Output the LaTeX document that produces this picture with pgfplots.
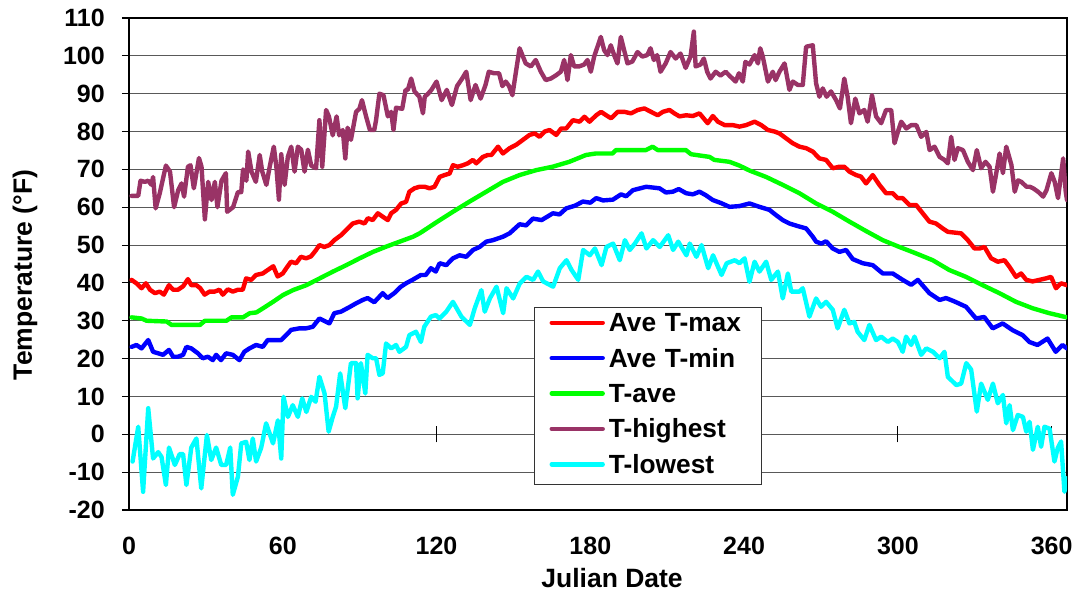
\documentclass[border=0pt]{standalone}
\usepackage{fontspec}
\setmainfont{Liberation Sans}
\usepackage{pgfplots}
\pgfplotsset{compat=1.18}
\definecolor{plum}{HTML}{993366}
\definecolor{cyanx}{HTML}{00FFFF}
\definecolor{greenx}{HTML}{00FF00}
\begin{document}
\begin{tikzpicture}
\useasboundingbox (-129pt,-84pt) rectangle (950pt,510pt);
\begin{axis}[
  scale only axis, width=938pt, height=492pt,
  xmin=0, xmax=366, ymin=-20, ymax=110,
  xtick={0,60,...,360}, xticklabels={0,60,120,180,240,300,360},
  ytick={-20,-10,...,110},
  yticklabels={-20,-10,0,10,20,30,40,50,60,70,80,90,100,110},
  ymajorgrids, grid style={black!65, line width=1.1pt},
  axis line style={line width=2.5pt},
  xtick style={draw=none}, ytick pos=left, tick align=outside,
  ytick style={black, line width=1.1pt}, major tick length=7pt,
  ticklabel style={font=\bfseries\fontsize{25}{25}\selectfont},
  xticklabel style={anchor=base, inner sep=0pt, yshift=-37pt},
  yticklabel style={anchor=east, inner sep=0pt, xshift=-17pt},
  xlabel={Julian Date}, ylabel={Temperature (°F)},
  label style={font=\bfseries\fontsize{26.5}{26.5}\selectfont},
  xlabel style={at={(axis description cs:0.515,-0.157)}, anchor=base},
  ylabel style={at={(axis description cs:-0.1109,0.4776)}, anchor=center},
  every axis plot/.append style={line width=4.4pt, line join=round, line cap=round},
  legend style={at={(axis description cs:0.4318,0.4126)}, anchor=north west,
    draw=black!80, line width=1pt, fill=white, inner xsep=15pt, inner ysep=0pt, row sep=0pt,
    font=\bfseries\fontsize{26.3}{26.3}\selectfont,
    nodes={text height=18.5pt, text depth=5.5pt, inner ysep=5.7pt, inner xsep=4pt, text width=134pt, align=left}},
  legend cell align=left,
  legend image code/.code={\draw[#1, line width=4.4pt] (0pt,2.5pt) -- (51pt,2.5pt);},
]
\foreach \t in {60,120,...,360} {\edef\temp{\noexpand\draw[black, line width=1pt] (axis cs:\t,-2.1) -- (axis cs:\t,2.1);}\temp}

\addplot[red] coordinates {(1,40.8)(2.9,39.9)(4.9,38.6)(6.6,39.9)(8.2,38.2)(10.1,37.3)(12,37.7)(13.6,36.9)(15.6,39.4)(17.2,38.2)(19.1,38.2)(21.1,39.1)(23,41)(24.3,39.4)(26.3,39.4)(27.8,38.6)(29.5,36.9)(31.4,37.7)(33.4,37.7)(35.3,38.2)(36.6,36.9)(38.6,38.3)(40.5,37.7)(42.5,38.2)(44.4,38.2)(45.7,41.2)(47.7,40.8)(49.6,42.1)(52.2,42.5)(54.1,43.4)(56.3,44.4)(58,41.7)(60,42.5)(61.3,43.8)(63.2,45.6)(65.2,45.2)(67.1,46.9)(69.1,46.5)(71,47)(73,48.7)(74.3,50)(76.2,49.5)(78.2,50)(80.1,51.3)(82.7,52.6)(85.4,54.4)(87.3,55.7)(89.9,56.2)(91.9,55.7)(93.2,57.1)(95.1,56.6)(97.1,58.4)(99,57.5)(101,56.6)(102.3,58.4)(104.2,59.3)(106.2,61)(108.1,61.4)(109.4,64.1)(111.4,65)(113.3,65.4)(115.4,65.4)(117.3,65)(119.2,65.4)(121.2,68)(123.1,68.5)(125.1,68.9)(126.4,71.1)(128.3,70.7)(130.3,71.1)(132.2,71.6)(134.2,72.5)(135.5,71.6)(138.1,73.3)(140,73.8)(141.4,73.8)(144,76)(145.9,74.2)(148.5,75.6)(151.1,76.5)(153.7,77.8)(156.3,79.1)(158.3,79.5)(160.2,78.6)(162.2,80)(164.1,80.4)(166.7,79.1)(168.6,80.8)(170.6,80.8)(173.2,83)(175.8,82.6)(177.7,83.9)(179.7,82.6)(182.3,84.3)(184.2,85.2)(186.2,84.3)(188.1,83.5)(190.7,85.2)(193.3,85.2)(195.9,84.8)(198.5,85.7)(201.1,86.1)(203.7,85.2)(206.3,84.3)(208.3,85.2)(210.9,85.7)(212.8,84.8)(214.8,84)(217.4,84.3)(220,84.1)(222.6,84.8)(225.8,82.2)(227.8,84.1)(229.8,82.6)(232.4,81.7)(235.6,81.7)(238.2,81.3)(240.8,81.7)(244.1,82.6)(246.7,81.7)(249.3,80.4)(251.9,80)(253.8,79.5)(256.4,78.2)(259,76.9)(261.6,76)(264.2,75.6)(266.8,74.7)(269.4,72.9)(272,72.5)(274.6,70.3)(277.2,70.7)(279.1,70.7)(281.1,69.4)(283.7,68.5)(285.6,68.1)(287.6,66.3)(290.2,68.5)(292.8,65.9)(295.4,63.7)(298,63.7)(299.9,62.4)(301.9,62.4)(304.5,60.6)(307.1,60.6)(309.7,58.4)(312.3,56.2)(314.9,55.7)(317.5,54.4)(319.5,53.5)(322.1,53.3)(324.7,53.1)(327.3,51.3)(329.9,49.1)(331.9,49.1)(333.8,49.5)(336.4,46.5)(339,45.6)(341.6,46)(343.5,44.3)(346.1,41.6)(348.1,42.5)(350.1,40.8)(352.6,40.4)(355.2,40.8)(357.8,41.2)(359.8,41.6)(361.7,38.6)(363.7,39.9)(366,39.4)};
\addlegendentry{Ave T-max}

\addplot[blue] coordinates {(1,23.1)(2.9,23.6)(4.9,22.7)(7.5,24.9)(9.4,21.8)(11.4,21.4)(13.3,21)(15.6,22.3)(17.2,20.5)(19.1,20.5)(21.1,21)(22.4,23.1)(24.3,22.7)(26.9,21.4)(28.8,20.1)(30.8,20.5)(32.7,19.6)(34,21)(35.9,19.6)(37.9,21.4)(40.5,21)(43.1,19.6)(45,21.8)(47,22.7)(49.6,23.6)(52.2,23.1)(54.1,24.9)(57.4,24.9)(59.4,24.9)(61.3,26.2)(63.3,27.6)(66.5,28)(69.1,28)(71.7,28.4)(74.3,30.6)(78.2,29.3)(80.1,32)(82.7,32.4)(86,33.6)(88.6,34.6)(91.2,35.5)(93.1,36)(95.7,34.9)(99,37.3)(100.9,36)(103.5,37.3)(106.1,39)(108.1,39.9)(110.6,40.8)(113.9,42.1)(115.8,42.1)(117.8,43.9)(119.7,43)(121.2,45.2)(123.8,44.7)(126.4,46.5)(129,47.3)(131.6,46.9)(134.2,48.7)(136.8,49.5)(139.4,50.9)(142,51.3)(145.9,52.2)(148.5,53.1)(152.4,55.5)(155,55.2)(157.6,57)(161,56.6)(165.4,58.4)(168,58.1)(170.6,59.7)(174,60.4)(177.1,61.5)(180,61.2)(182.3,62.4)(185,61.8)(188.8,62)(192,63.4)(194,62.9)(196.6,64.5)(201.8,65.4)(207,65)(209.5,63.9)(212.2,64.1)(214.5,64.8)(217.4,63.7)(220,63.4)(222.6,64.1)(225,63.2)(227.8,61.9)(231,61.1)(234.3,60.1)(238.2,60.3)(242.1,61)(246,60.1)(249.9,59.3)(252.5,57.9)(255.1,56.6)(257.7,55.7)(261,55)(264.2,54.4)(266.8,52.2)(268.1,50.9)(270.1,50.4)(272,51)(274.6,49.1)(277.2,48.2)(279.8,48.7)(282.4,46.3)(286.3,45.2)(290.2,44.7)(294.1,42.5)(298,42.5)(301.9,40.8)(305.2,39.5)(307.8,40.8)(312.3,37.3)(316.3,35.5)(318.8,36)(322.1,35.1)(326.6,33.7)(330.5,30.6)(333.7,31)(337,28)(340.9,29.3)(344.8,27.5)(348.7,26.2)(351.3,24.4)(354.5,23.6)(358.4,25.3)(361.6,21.8)(364.2,23.6)(366,22.7)};
\addlegendentry{Ave T-min}

\addplot[greenx] coordinates {(1,30.9)(4.9,30.6)(6.9,30)(14.7,29.8)(16.6,28.9)(27.7,28.9)(29.6,30)(38,30)(40,30.9)(44.5,30.9)(47.1,32)(49.7,32.2)(52.3,33.3)(56.2,35)(60.1,36.8)(64,38.1)(69.2,39.4)(74.4,41.2)(79.6,43)(84.8,44.7)(90,46.5)(95.2,48.2)(100.4,49.6)(105.6,50.9)(110.8,52.2)(113.4,53.1)(119.9,56)(126.4,58.8)(132.9,61.5)(139.4,64.1)(145.9,66.7)(152.4,68.5)(158.9,69.8)(165.3,70.7)(171.8,72)(178.3,73.8)(182.2,74.2)(188.7,74.2)(190,75.1)(201.7,75.1)(204.3,76)(206.3,75.1)(217.3,75.1)(219.3,74)(226.5,73.3)(228.4,72.5)(234.3,72)(238.2,71)(242.1,69.7)(248.6,68)(255.1,65.9)(261.6,63.7)(268.1,61)(274.6,58.8)(281.1,56.2)(287.6,53.7)(294.1,51.3)(300.6,49.5)(307.1,47.8)(313.6,46)(320.1,43.4)(326.6,41.6)(333.1,39.4)(339.6,37.3)(346.1,35)(352.6,33.3)(359.1,32)(366,30.9)};
\addlegendentry{T-ave}

\addplot[plum] coordinates {(1,63)(3.6,63)(4.5,67)(6.2,66.7)(7.5,67)(8.8,65.9)(9.4,68)(10.4,59.7)(12,63.7)(14.4,71)(16,69.4)(17.6,60)(19.2,64.5)(20.5,66.3)(21.5,62.8)(23,70.7)(24,71.1)(25.3,65)(27.3,73)(28.3,70.7)(29.6,56.8)(30.9,66.7)(32.2,61.9)(33.5,66.7)(34.5,60)(36.1,67)(37.8,69)(38.3,58.8)(40.6,60)(42.5,64)(43.8,64)(44.5,70)(45.8,67)(46.5,74.7)(47.8,69.4)(49.5,66.7)(51,73.8)(52,69.4)(53.6,65.9)(54.9,70.7)(56.5,76)(57.5,70.7)(58.5,62)(59.4,74)(60.7,65.9)(62,73.4)(63.3,76)(64.6,69.4)(65.9,76)(67.2,75.2)(68.5,69.4)(69.8,75.2)(71.1,71)(73,70.3)(74.3,83)(75.4,70.7)(76.9,85.7)(78,84)(79.5,79)(81,84)(82,79)(83.4,80.4)(84.4,72.9)(85.3,81)(86.6,77.8)(88.6,85.2)(89.9,86)(90.9,88.3)(92.5,84)(94,80.4)(95.7,80.4)(96.4,83)(97.7,90)(99.3,89.6)(101,84)(102.3,85.2)(103.2,80.4)(104.2,86.3)(106.6,86)(107.9,91)(108.8,91)(110.1,94)(111.4,90.6)(113.3,89.2)(114.7,84.8)(115.4,89.2)(116.7,90)(118,91)(120,93.2)(122,88.3)(124,91)(126,87)(128,92)(130,94)(131.6,95.8)(133.3,88.3)(135.2,92.3)(137.2,88.7)(139.1,92.3)(140.4,95.8)(142.4,95.4)(144.4,95.4)(145.7,92)(147,93.2)(148.3,92)(149.6,89.6)(150.9,95.4)(152.4,102)(154.8,98)(156.8,97.2)(158.7,98.9)(160.7,95.8)(162.6,93.6)(164.6,94)(166.5,94.8)(168.5,95.8)(169.8,98.9)(171.1,93.6)(172.4,100.2)(173.7,97.2)(175.6,97.2)(177.6,97.7)(178.9,98.9)(180.2,95.8)(181.5,99.8)(182.8,102.4)(184.1,105)(185.4,101.5)(186.7,100.2)(188,102.8)(189.3,100.2)(190.6,98)(191.9,105)(193.2,101.5)(194.5,98)(196.4,98.5)(198.4,101)(200.3,99.8)(202.2,100.2)(203.5,102)(204.8,98.9)(206.1,100.2)(207.4,95.8)(209.4,98)(211.3,101)(213.3,99.3)(215.2,100.6)(217.2,96.8)(219.1,99.8)(220.4,106.4)(221.1,97.2)(223,97.7)(224.3,99.3)(225.6,95.8)(226.9,94)(228.9,95.8)(230.8,94.8)(232.8,95.8)(234.7,94.5)(236.7,93.2)(238,95.4)(239.5,93.2)(240.5,98.4)(242.1,97.7)(244.1,100.2)(245.4,98)(246.3,102)(247.3,99.8)(249.3,93.2)(251.2,95.8)(252.3,93.6)(253.8,95.8)(255.8,98)(257.7,91)(259,93.2)(261,92.3)(262.9,92.3)(264.2,102.4)(266.8,102.8)(268.1,92.7)(269.4,89.2)(270.7,91.4)(272.2,89.2)(273.9,90.6)(275.9,88.3)(277.4,86.1)(279.1,94)(280.4,89.2)(281.7,82.2)(283.4,88.7)(285,84.8)(286.9,85.7)(288.2,82.6)(289.9,89.6)(291.5,84)(293.5,82.2)(295.4,85.7)(297.4,85.7)(298.7,76.9)(300,79.9)(301.3,82.6)(303.3,80.8)(305.2,81.7)(307.2,81.7)(309.1,78.6)(311.1,79.9)(312.4,75.1)(314.3,76)(316.3,73.3)(318.2,72.5)(319.5,71.6)(320.8,78.6)(322.1,72.5)(323.4,75.6)(325.4,75.1)(327.3,72)(329.3,69.8)(330.8,75.1)(332.5,70.3)(334.2,72)(335.8,70.7)(337.1,64.1)(338.4,69)(339.7,74.2)(341,69)(342.3,76)(344.3,71.2)(345.6,64.1)(346.9,67.1)(348.2,66.7)(350.2,65.4)(351.5,65.4)(352.8,65)(354.7,64.1)(356.7,62.8)(358,64.5)(359.9,69)(361.2,66.7)(362.5,62.4)(364.5,72.9)(365.5,64.1)(366,61.9)};
\addlegendentry{T-highest}

\addplot[cyanx] coordinates {(1.4,-7.2)(3.6,2)(5.5,-15.2)(7.5,6.9)(9.4,-6.4)(11.4,-4.7)(12.7,-6)(14.4,-13.4)(15.6,-3.5)(17.9,-8.1)(19.8,-5.2)(21.1,-5.2)(22.4,-13.4)(24.3,-3.5)(26.3,-1.1)(28.2,-14.3)(30.4,-0.2)(32.1,-6.8)(34,-3.5)(36,-8.1)(37.9,-8.1)(39.5,-3.5)(40.5,-16)(42.5,-11.2)(43.8,-2.4)(45.7,-2)(47,-6.8)(48.3,-1.1)(49.6,-7.2)(51.6,-3.5)(53.5,2.9)(56.2,-2.4)(58.1,3.7)(59.4,-6.4)(60.3,9.9)(62,4.6)(63.9,7.7)(65.9,4.6)(67.6,9.5)(69.2,5.9)(71.1,9.9)(72.8,8.6)(74.3,15.2)(76.3,10.8)(77.9,0.7)(79.5,4.6)(80.8,7.3)(82.4,16.1)(84.4,6.9)(86.6,18.8)(88.6,18.8)(89.2,9.5)(90.5,18.8)(92.2,10.8)(93.1,21)(95.1,20.1)(96.4,20.1)(97.7,15.7)(99,16.1)(100.3,24)(102.3,22.7)(104.2,23.6)(105.5,21.8)(108.1,23.1)(109.4,26.2)(112,27.1)(113.9,24.4)(115.2,28.4)(117.8,31.1)(119.7,31.5)(121.2,30.6)(123.8,32.4)(126.4,35)(129.7,31.1)(133,28.9)(134.9,33.3)(137.5,38.1)(138.8,32.4)(140.8,35.9)(143.4,39)(146,32)(147.3,38.6)(149.9,35.9)(152.5,39.9)(155.1,41.6)(157.7,40.8)(159.6,43)(161.6,40.4)(165.5,39)(168.1,43.9)(170.7,46)(172.7,43.4)(175.3,40.8)(177.2,48.7)(179.8,47.3)(181.8,49.1)(184.4,44.7)(186.3,49.5)(188.9,50.4)(191.5,46)(193.5,51.3)(195.4,48.7)(197.4,50.4)(200,53.1)(201.9,49.1)(204.5,51.3)(207.1,49.5)(210.4,52.6)(212.3,48.7)(214.3,50.9)(217.5,47.3)(218.8,50.4)(221.4,46.9)(223.4,50)(226,43.9)(227.9,47.3)(231.2,42.1)(233.2,45.2)(236.4,46)(238.2,45.2)(240.2,46.5)(242.1,40.3)(244.1,45.6)(246,43)(248.6,45.6)(250.6,40.8)(253.2,43)(255.1,35.9)(257.1,42.5)(258.4,37.7)(261.6,37.7)(262.9,38.6)(265.5,31.1)(268.1,35.9)(270,33.7)(272,35)(274.6,32.9)(276.5,28)(279.1,32.9)(281.1,29.3)(283,29.7)(284.3,27.1)(286.9,24.9)(288.9,28.9)(291.5,24.9)(293.5,25.8)(296.1,24.4)(298,25.3)(300,24.4)(301.9,21.8)(303.2,25.8)(305.2,23.6)(306.5,25.8)(309.1,21)(311.1,22.7)(313.7,21.8)(316.3,20.1)(318.2,21.8)(319.5,15.2)(322.8,13)(324.7,13.4)(326.7,18.8)(328.6,17.1)(330.8,6)(332.5,13.4)(335.1,9.1)(337.1,13.4)(339,8.2)(341,10.4)(342.3,2.9)(343.6,7.7)(344.9,1.1)(346.8,5.1)(348.8,4.6)(350.1,0.7)(351.4,3.3)(352.7,-4.1)(354.6,2)(355.9,-3.3)(357.2,2)(359.2,1.5)(361.1,-7.2)(362.4,-3.6)(363.7,-1.9)(365,-15.2)(366,-11.6)};
\addlegendentry{T-lowest}
\end{axis}
\end{tikzpicture}
\end{document}
